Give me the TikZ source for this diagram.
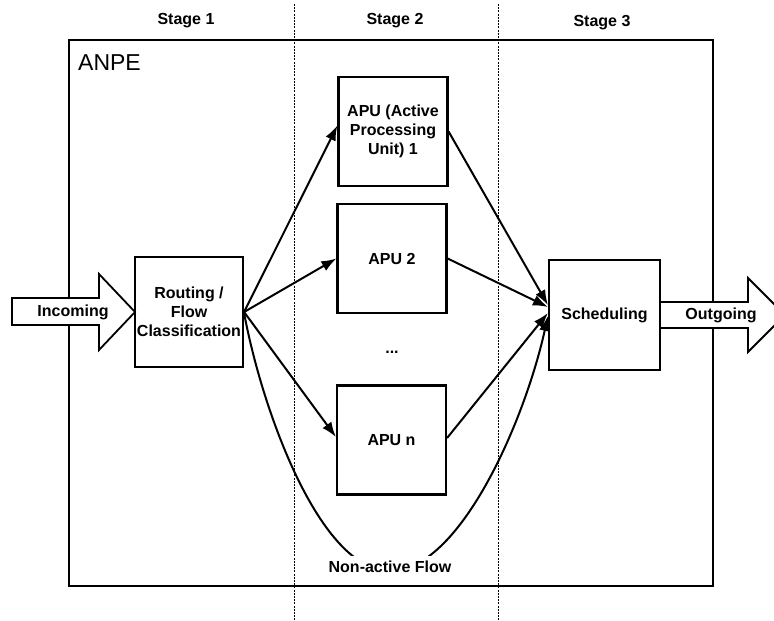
\documentclass[tikz,border=0pt]{standalone}
\usepackage{fontspec}
\setmainfont{Liberation Sans}
\usetikzlibrary{arrows.meta,calc}
\begin{document}
\begin{tikzpicture}[x=1pt,y=-1pt,
  box/.style={draw,line width=2.2pt,minimum width=109pt,minimum height=109pt,align=center,inner sep=0pt,font=\bfseries\fontsize{16}{19}\selectfont},
  lbl/.style={inner sep=0pt,font=\bfseries\fontsize{16}{19}\selectfont},
  flow/.style={line width=2pt,-{Latex[length=15pt,width=11pt]}},
  stagesep/.style={line width=1pt,dash pattern=on 2pt off 1.2pt},
  bigarrow/.style={draw,fill=white,line width=1.8pt,line join=miter},
  frame/.style={draw,line width=1.5pt}
]
\useasboundingbox (0,0) rectangle (774,621);
% ANPE frame
\draw[frame] (69,40) rectangle (713,586);
\node[anchor=base west,inner sep=0pt,font=\fontsize{23}{26}\selectfont] (anpe) at (78,70) {ANPE};
% stage separators
\coordinate (s1t) at (294,4);
\coordinate (s1b) at (294,621);
\coordinate (s2t) at (498,4);
\coordinate (s2b) at (498,621);
\draw[stagesep] (s1t) -- (s1b);
\draw[stagesep] (s2t) -- (s2b);
% stage labels
\node[lbl] (st1) at (186,21) {Stage 1};
\node[lbl] (st2) at (395,21) {Stage 2};
\node[lbl] (st3) at (602,23) {Stage 3};
% boxes
\node[box,minimum width=108pt,minimum height=110pt] (route) at (189,312) {Routing /\\Flow\\Classification};
\node[box] (apu1) at (393,131.5) {APU (Active\\Processing\\Unit) 1};
\node[box] (apu2) at (392,258.5) {APU 2};
\node[lbl] (dots) at (392,352) {...};
\node[box] (apun) at (391.5,440) {APU n};
\node[box,minimum width=111pt,minimum height=110pt] (sched) at (604.5,315) {Scheduling};
% arrows from routing
\draw[flow] (route.east) -- ($(apu1.west)+(0,-6)$);
\draw[flow] (route.east) -- (apu2.west);
\draw[flow] (route.east) -- ($(apun.west)+(0,-3)$);
% arrows to scheduling
\draw[flow] (apu1.east) -- ($(sched.west)+(0,-10)$);
\draw[flow] (apu2.east) -- ($(sched.west)+(0,-8)$);
\draw[flow] ($(apun.east)+(0,-2)$) -- ($(sched.west)+(0,-2)$);
% non-active flow
\draw[flow] ($(route.east)+(0,1)$) .. controls (262,410) and (320,571) .. (390,571)
  .. controls (460,571) and (525,420) .. ($(sched.west)+(0,1)$);
\node[lbl,fill=white,inner xsep=3pt,minimum height=22pt] (nonact) at (390,567) {Non-active Flow};
% incoming / outgoing block arrows
\draw[bigarrow] (12,298) -- (99,298) -- (99,274) -- (135,312) -- (99,350) -- (99,325) -- (12,325) -- cycle;
\node[lbl] (incoming) at (73,312) {Incoming};
\draw[bigarrow] (sched.east |- 0,302) -- (748,302) -- (748,278) -- (785,315) -- (748,352) -- (748,328) -- (sched.east |- 0,328);
\node[lbl] (outgoing) at (721,315) {Outgoing};
\end{tikzpicture}
\end{document}
